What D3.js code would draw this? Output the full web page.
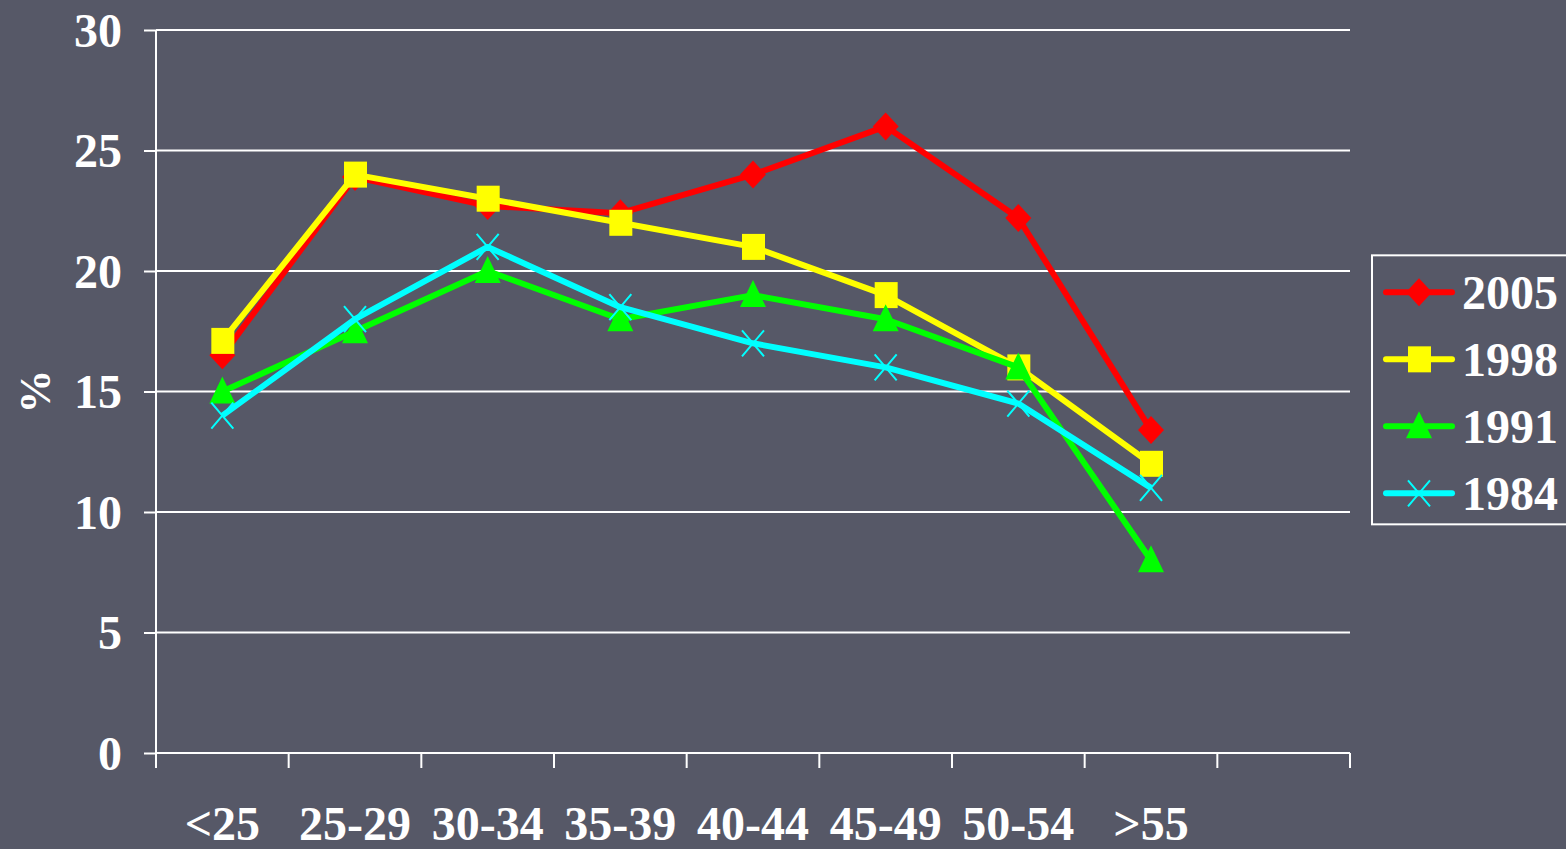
<!DOCTYPE html>
<html>
<head>
<meta charset="utf-8">
<script src="https://cdn.jsdelivr.net/npm/d3@7"></script>
<style>
  html, body { margin: 0; padding: 0; background: #565867; }
  .chart text { font-family: 'Liberation Serif', 'Times New Roman', serif; font-weight: bold; fill: #fff; }
</style>
</head>
<body>
<div class="chart"></div>
<script>
// DATA
// ----------------------------
const ageGroups = ['<25', '25-29', '30-34', '35-39', '40-44', '45-49', '50-54', '>55']
const yTicks = [0, 5, 10, 15, 20, 25, 30]

const y2005 = [16.5, 23.9, 22.7, 22.4, 24, 26, 22.2, 13.4]
const y1998 = [17.1, 24, 23, 22, 21, 19, 16, 12]
const y1991 = [15, 17.5, 20, 18, 19, 18, 16, 8]
const y1984 = [14, 18, 21, 18.5, 17, 16, 14.5, 11]

const seriesNames = ['2005', '1998', '1991', '1984']
const seriesValues = [y2005, y1998, y1991, y1984]
const seriesColors = ['#ff0000', '#ffff00', '#00ff00', '#00ffff']
const seriesMarkers = ['diamond', 'square', 'triangle', 'cross']

// SETUP
// ----------------------------
const margin = { top: 30, bottom: 96, left: 156, right: 216 }
const fullWidth = 1566
const fullHeight = 849
const width = fullWidth - margin.left - margin.right
const height = fullHeight - margin.top - margin.bottom

const svg = d3.select('.chart')
  .append('svg')
    .attr('width', fullWidth)
    .attr('height', fullHeight)
  .append('g')
    .attr('transform', `translate(${margin.left}, ${margin.top})`)

// x has one empty slot after the last group, like the original
const xScale = d3.scaleBand()
  .domain([...ageGroups, ''])
  .range([0, width])
  .paddingInner(0)
  .paddingOuter(0)

const yScale = d3.scaleLinear()
  .domain([0, 30])
  .range([height, 0])

const xc = d => xScale(d) + xScale.bandwidth() / 2

// GRID
// ----------------------------
svg.append('g')
  .selectAll('line')
  .data(yTicks)
  .enter()
  .append('line')
    .attr('x1', 0)
    .attr('x2', width)
    .attr('y1', d => yScale(d))
    .attr('y2', d => yScale(d))
    .style('stroke', '#fff')
    .style('stroke-width', 2)

// Y AXIS
// ----------------------------
const yAxis = d3.axisLeft(yScale)
  .tickValues(yTicks)
  .tickSize(12)
  .tickPadding(22)
const yG = svg.append('g').call(yAxis)
yG.select('.domain').remove()
yG.selectAll('.tick line').style('stroke', '#fff').style('stroke-width', 2)
yG.selectAll('.tick text').style('font-size', '48px').attr('dy', '0.34em')
yG.append('line')
  .attr('x1', 0).attr('x2', 0)
  .attr('y1', 0).attr('y2', height + 14)
  .style('stroke', '#fff')
  .style('stroke-width', 2)

svg.append('text')
  .attr('transform', `translate(${-121}, ${yScale(15)}) rotate(-90)`)
  .style('text-anchor', 'middle')
  .style('font-size', '44px')
  .attr('dy', '0.35em')
  .text('%')

// X AXIS
// ----------------------------
const xG = svg.append('g').attr('transform', `translate(0, ${height})`)
xG.append('line')
  .attr('x1', 0).attr('x2', width)
  .style('stroke', '#fff')
  .style('stroke-width', 2)
const edges = xScale.domain().map(d => xScale(d)).concat([width])
xG.selectAll('.edge')
  .data(edges)
  .enter()
  .append('line')
    .attr('class', 'edge')
    .attr('x1', d => d).attr('x2', d => d)
    .attr('y1', 0).attr('y2', 15)
    .style('stroke', '#fff')
    .style('stroke-width', 2)
xG.selectAll('.xlabel')
  .data(ageGroups)
  .enter()
  .append('text')
    .attr('class', 'xlabel')
    .attr('x', d => xc(d))
    .attr('y', 87)
    .style('text-anchor', 'middle')
    .style('font-size', '48px')
    .text(d => d)

// MARKERS
// ----------------------------
function drawMarker (g, type, color) {
  if (type === 'diamond') {
    g.append('path').attr('d', 'M0,-14L13,0L0,14L-13,0Z').style('fill', color)
  } else if (type === 'square') {
    g.append('rect').attr('x', -11).attr('y', -13).attr('width', 23).attr('height', 26).style('fill', color)
  } else if (type === 'triangle') {
    g.append('path').attr('d', 'M0,-15L13,12L-13,12Z').style('fill', color)
  } else {
    g.append('path').attr('d', 'M-11,-13L11,13M-11,13L11,-13')
      .style('stroke', color).style('stroke-width', 2).style('fill', 'none')
  }
}

// LINES
// ----------------------------
const line = d3.line()
  .x((d, i) => xc(ageGroups[i]))
  .y(d => yScale(d))

seriesValues.forEach((vals, s) => {
  const g = svg.append('g')
  g.append('path')
    .datum(vals)
    .attr('d', line)
    .style('fill', 'none')
    .style('stroke', seriesColors[s])
    .style('stroke-width', 6)
    .style('stroke-linejoin', 'round')
  g.selectAll('.pt')
    .data(vals)
    .enter()
    .append('g')
      .attr('class', 'pt')
      .attr('transform', (d, i) => `translate(${xc(ageGroups[i])}, ${yScale(d)})`)
      .each(function () { drawMarker(d3.select(this), seriesMarkers[s], seriesColors[s]) })
})

// LEGEND
// ----------------------------
const legend = svg.append('g')
  .attr('transform', `translate(${width + 22}, ${yScale(20.65)})`)
legend.append('rect')
  .attr('x', 0).attr('y', 0)
  .attr('width', 200).attr('height', 269)
  .style('fill', 'none')
  .style('stroke', '#fff')
  .style('stroke-width', 2)
const items = legend.selectAll('.item')
  .data(seriesNames)
  .enter()
  .append('g')
    .attr('class', 'item')
    .attr('transform', (d, i) => `translate(0, ${37 + i * 67})`)
items.append('line')
  .attr('x1', 14).attr('x2', 80)
  .style('stroke', (d, i) => seriesColors[i])
  .style('stroke-width', 6)
  .style('stroke-linecap', 'round')
items.append('g')
  .attr('transform', 'translate(47, 0)')
  .each(function (d, i) { drawMarker(d3.select(this), seriesMarkers[i], seriesColors[i]) })
items.append('text')
  .attr('x', 90)
  .attr('dy', '0.35em')
  .style('font-size', '48px')
  .text(d => d)
</script>
</body>
</html>
